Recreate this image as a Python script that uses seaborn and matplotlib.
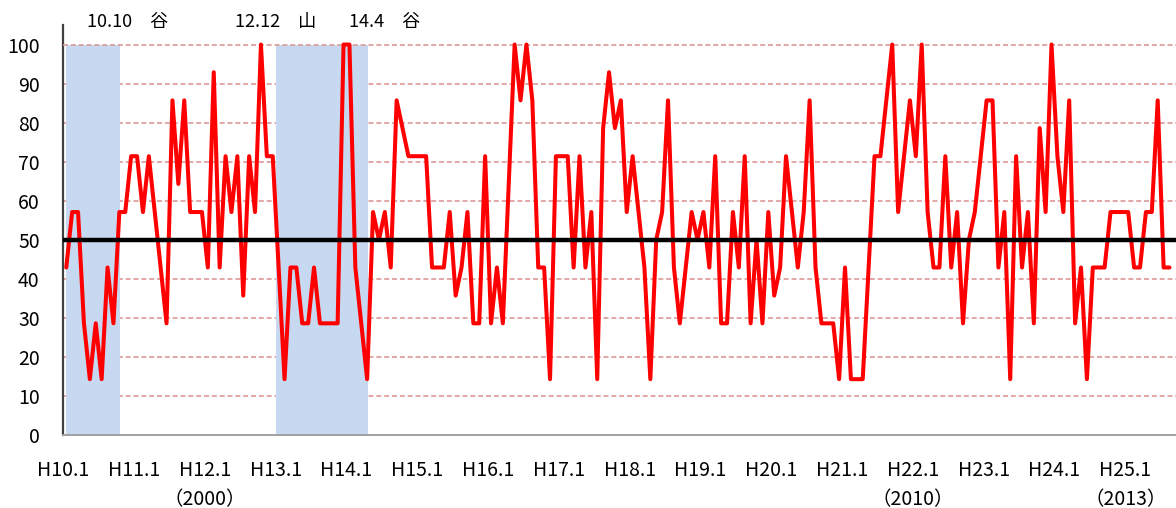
import numpy as np
import pandas as pd
import seaborn as sns
import matplotlib.pyplot as plt
import matplotlib.transforms as mtransforms

sns.set_theme(style="white")
plt.rcParams['font.family'] = ['Noto Sans CJK JP', 'DejaVu Sans']

# monthly DI (%), starting H10.1
di = [42.9, 57.1, 57.1, 28.6, 14.3, 28.6, 14.3, 42.9, 28.6, 57.1, 57.1, 71.4,   # H10
      71.4, 57.1, 71.4, 57.1, 42.9, 28.6, 85.7, 64.3, 85.7, 57.1, 57.1, 57.1,   # H11
      42.9, 92.9, 42.9, 71.4, 57.1, 71.4, 35.7, 71.4, 57.1, 100.0, 71.4, 71.4,  # H12
      42.9, 14.3, 42.9, 42.9, 28.6, 28.6, 42.9, 28.6, 28.6, 28.6, 28.6, 100.0,  # H13
      100.0, 42.9, 28.6, 14.3, 57.1, 50.0, 57.1, 42.9, 85.7, 78.6, 71.4, 71.4,  # H14
      71.4, 71.4, 42.9, 42.9, 42.9, 57.1, 35.7, 42.9, 57.1, 28.6, 28.6, 71.4,   # H15
      28.6, 42.9, 28.6, 64.3, 100.0, 85.7, 100.0, 85.7, 42.9, 42.9, 14.3, 71.4, # H16
      71.4, 71.4, 42.9, 71.4, 42.9, 57.1, 14.3, 78.6, 92.9, 78.6, 85.7, 57.1,   # H17
      71.4, 57.1, 42.9, 14.3, 50.0, 57.1, 85.7, 42.9, 28.6, 42.9, 57.1, 50.0,   # H18
      57.1, 42.9, 71.4, 28.6, 28.6, 57.1, 42.9, 71.4, 28.6, 50.0, 28.6, 57.1,   # H19
      35.7, 42.9, 71.4, 57.1, 42.9, 57.1, 85.7, 42.9, 28.6, 28.6, 28.6, 14.3,   # H20
      42.9, 14.3, 14.3, 14.3, 42.9, 71.4, 71.4, 85.7, 100.0, 57.1, 71.4, 85.7,  # H21
      71.4, 100.0, 57.1, 42.9, 42.9, 71.4, 42.9, 57.1, 28.6, 50.0, 57.1, 71.4,  # H22
      85.7, 85.7, 42.9, 57.1, 14.3, 71.4, 42.9, 57.1, 28.6, 78.6, 57.1, 100.0,  # H23
      71.4, 57.1, 85.7, 28.6, 42.9, 14.3, 42.9, 42.9, 42.9, 57.1, 57.1, 57.1,   # H24
      57.1, 42.9, 42.9, 57.1, 57.1, 85.7, 42.9, 42.9]                           # H25

months = [f"H{10 + i // 12}.{i % 12 + 1}" for i in range(len(di))]

year_ticks = [f"H{y}.1" for y in range(10, 26)]
year_notes = {"H12.1": "（2000）", "H22.1": "（2010）", "H25.1": "（2013）"}

# recession periods (peak -> trough)
recessions = [(None, "H10.10"), ("H12.12", "H14.4")]
turning_labels = [("10.10　谷", 10.4), ("12.12　山", 35.4), ("14.4　谷", 54.0)]

df = pd.DataFrame({"t": np.arange(len(di)), "di": di})

fig = plt.figure(figsize=(11.76, 5.08), dpi=100)
ax = fig.add_axes([63.3 / 1176, 73 / 508, 1 - 63.3 / 1176, 410 / 508])

# grid lines
for y in range(10, 101, 10):
    if y == 50:
        continue
    ax.axhline(y, color="#dc9a98", lw=1.2, ls=(0, (3, 1.7)),
               zorder=3 if y == 100 else 0.5)

# shaded recession periods
for peak, trough in recessions:
    s = 0 if peak is None else months.index(peak) + 0.5
    e = months.index(trough) + 0.15
    ax.fill_between([s, e], 0, 100, color="#c6d9f0", lw=0, zorder=1)

sns.lineplot(data=df, x="t", y="di", color="#ff0000", lw=2.9, ax=ax, zorder=4)
ax.axhline(50, color="black", lw=3.2, zorder=5)

ax.set_xlim(-0.5, 188.1)
ax.set_ylim(0, 105)
ax.set_xlabel("")
ax.set_ylabel("")

ax.set_yticks(range(0, 101, 10))
ax.tick_params(axis="y", length=0, pad=17, labelsize=14, labelcolor="black")

tick_pos = [months.index(m) - 0.5 for m in year_ticks]
tick_lab = [m + ("\n" + year_notes[m] if m in year_notes else "") for m in year_ticks]
ax.set_xticks(tick_pos)
ax.set_xticklabels(tick_lab)
ax.tick_params(axis="x", direction="in", length=5, width=1.2, color="#a0a0a0",
               pad=18, labelsize=14, labelcolor="black")
for lab in ax.get_xticklabels():
    lab.set_linespacing(1.5)

for side in ["top", "right"]:
    ax.spines[side].set_visible(False)
ax.spines["left"].set_color("#404040")
ax.spines["left"].set_linewidth(1.6)
ax.spines["bottom"].set_color("#a0a0a0")
ax.spines["bottom"].set_linewidth(1.4)

trans = mtransforms.blended_transform_factory(ax.transData, ax.transAxes)
for text, x in turning_labels:
    ax.text(x, 1.008, text, transform=trans, ha="center", va="center",
            fontsize=13, color="black")

fig.savefig("out.png", dpi=100)
